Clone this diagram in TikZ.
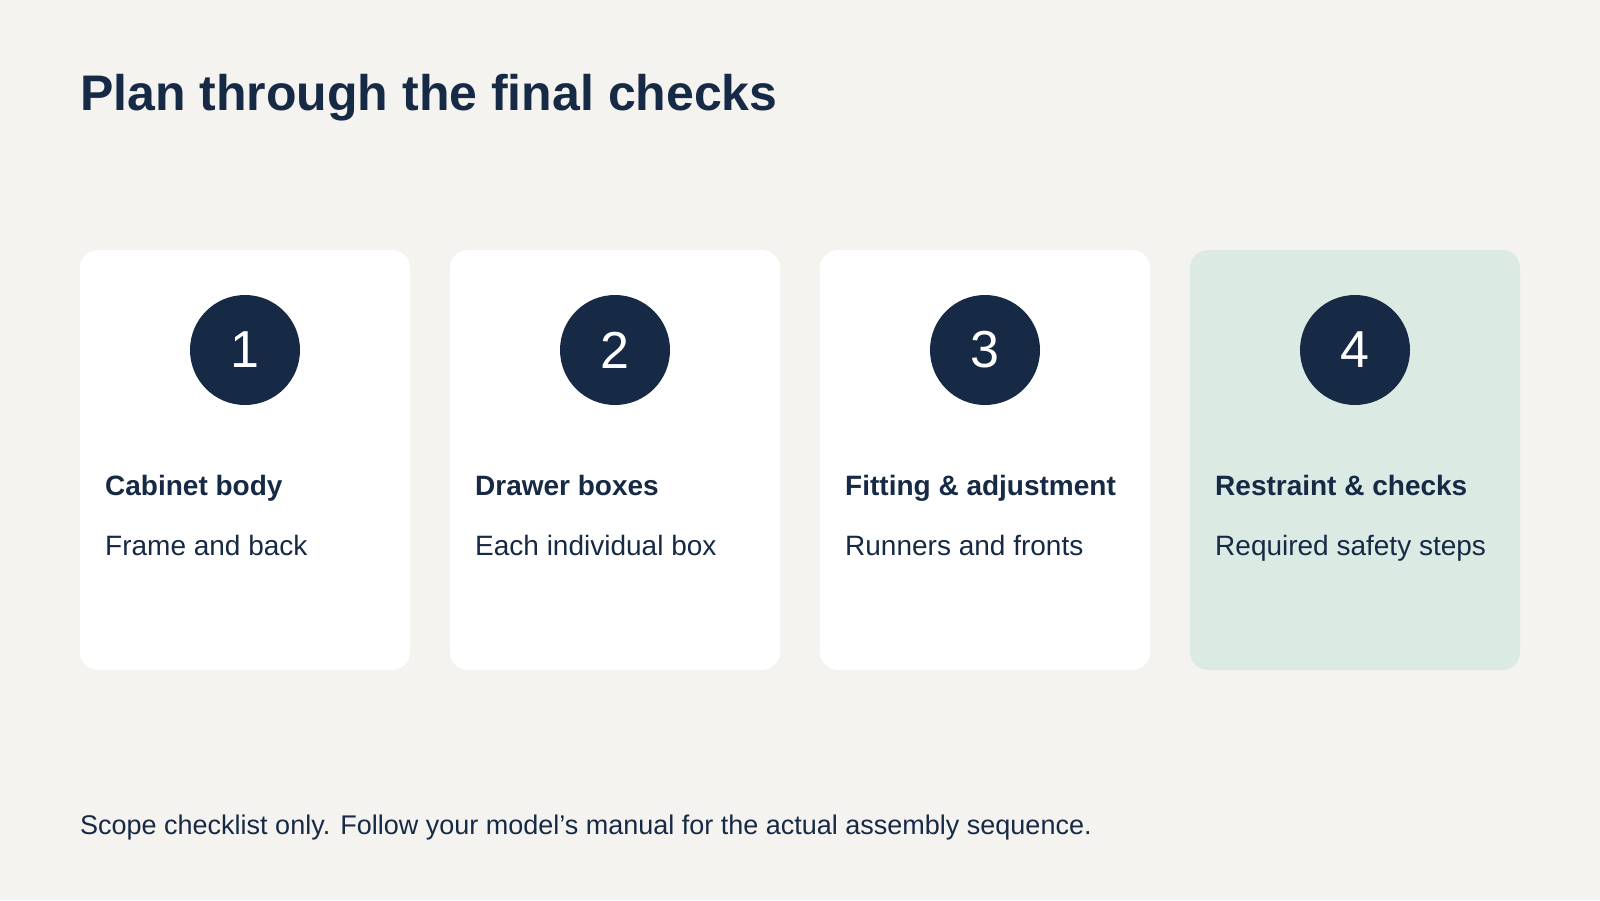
\documentclass[tikz,border=0pt]{standalone}
\usepackage{fontspec}
\setmainfont{Liberation Sans}
\definecolor{bg}{HTML}{F4F3EF}
\definecolor{navy}{HTML}{172A45}
\definecolor{mint}{HTML}{DCEAE4}
\begin{document}
\begin{tikzpicture}[x=1pt,y=-1pt,
  card/.style={fill=white,rounded corners=18pt},
  num/.style={circle,fill=navy,minimum size=110pt,inner sep=0pt,text=white,font=\fontsize{52}{60}\selectfont},
  head/.style={anchor=base west,text=navy,font=\bfseries\fontsize{28}{32}\selectfont,inner sep=0pt},
  sub/.style={anchor=base west,text=navy,font=\fontsize{28}{32}\selectfont,inner sep=0pt}]
\fill[bg] (0,0) rectangle (1600,900);
\useasboundingbox (0,0) rectangle (1600,900);
\node[anchor=base west,inner sep=0pt,text=navy,font=\bfseries\fontsize{50}{56}\selectfont] (title) at (80,110) {Plan through the final checks};
\foreach \i/\x/\h/\s/\c in {1/80/Cabinet body/Frame and back/white,2/450/Drawer boxes/Each individual box/white,3/820/Fitting \& adjustment/Runners and fronts/white,4/1190/Restraint \& checks/Required safety steps/mint}{
  \fill[card,fill=\c] (\x,250) rectangle ++(330,420);
  \node[num] (n\i) at (\x+165,350) {\i};
  \node[head] (h\i) at (\x+25,495) {\h};
  \node[sub] (s\i) at (\x+25,555) {\s};
}
\node[anchor=base west,inner sep=0pt,text=navy,font=\fontsize{27}{32}\selectfont] (foot) at (80,834) {Scope checklist only. Follow your model’s manual for the actual assembly sequence.};
\end{tikzpicture}
\end{document}
